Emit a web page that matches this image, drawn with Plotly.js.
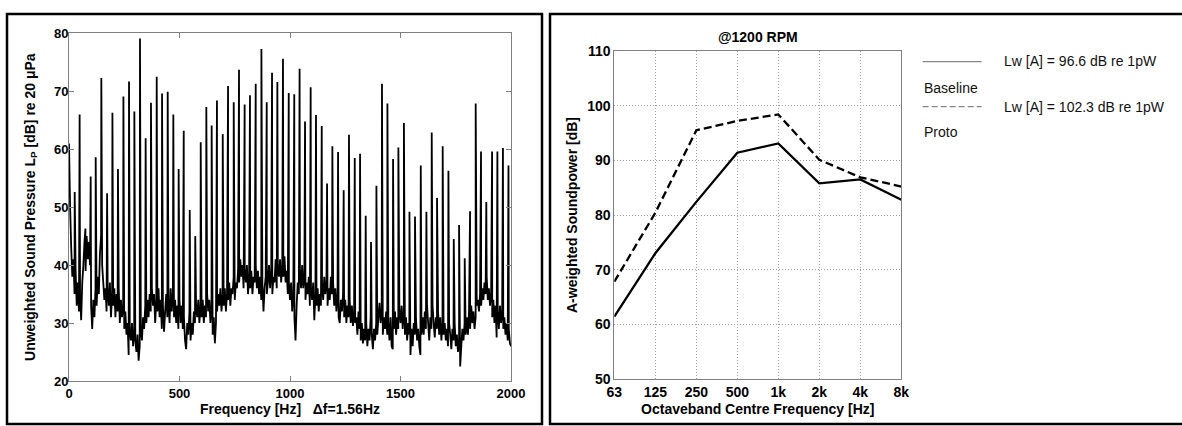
<!DOCTYPE html>
<html>
<head>
<meta charset="utf-8">
<script src="https://cdn.plot.ly/plotly-3.0.1.min.js"></script>
<style>
  html, body { margin: 0; padding: 0; background: #fff; }
  #chart { width: 1182px; height: 426px; }
</style>
</head>
<body>
<div id="chart"></div>
<script>
// ---------------- Left panel: narrow-band spectrum ----------------
// Tonal peaks (harmonics)
const peakHz = [25.8, 48.1, 74.2, 98.2, 120.8, 146.3, 172.4, 196.5, 221.5, 246.2,
  271.6, 295.7, 321.2, 346.8, 370.9, 396.9, 421, 446.6, 472.1, 496.1,
  519.2, 546.3, 571.3, 596, 621.4, 645.5, 669.5, 695.6, 719.7, 745.3,
  769.3, 794.8, 818.9, 844.9, 870.6, 894.7, 918.7, 942.8, 968.2, 994.3,
  1019.3, 1043.4, 1068, 1093.5, 1117.6, 1143.6, 1167.7, 1191.7, 1217.5, 1242.9,
  1266.9, 1293, 1317, 1342.6, 1366.6, 1391, 1416.2, 1440.8, 1466.4, 1490.4,
  1515.5, 1540.5, 1565.6, 1591.7, 1617.2, 1641.3, 1665.3, 1690.9, 1716.9, 1741,
  1765, 1790.6, 1814.7, 1840.2, 1864.3, 1888.3, 1914.4, 1938.4, 1963.5, 1988.6];
const peakDb = [52.6, 66.0, 46.3, 55.3, 58.6, 72.3, 52.4, 66.3, 56.6, 69.1,
  71.7, 66.5, 79.1, 61.9, 68.0, 72.5, 69.6, 69.9, 66.0, 56.6,
  63.2, 49.5, 45.0, 61.2, 67.3, 64.1, 68.4, 62.6, 70.9, 68.1,
  73.7, 67.7, 69.3, 71.3, 77.3, 68.1, 73.2, 71.6, 75.6, 69.7,
  69.5, 73.9, 64.8, 70.7, 65.9, 64.0, 54.1, 60.5, 59.5, 52.9,
  62.5, 58.5, 59.2, 48.5, 44.0, 53.7, 71.3, 67.9, 58.3, 60.3,
  64.5, 49.2, 48.4, 57.2, 49.2, 62.9, 51.6, 60.5, 56.3, 44.5,
  46.9, 41.2, 49.3, 67.9, 59.6, 50.9, 59.6, 59.6, 60.2, 57.2];

// Broadband floor, read every 5 Hz
const floorStepHz = 5;
const floor0to495 = [
  61, 50, 43, 38, 41, 35, 39, 33, 37, 32, 35, 30.5, 37, 40, 44, 39, 45, 41, 44, 40,
  33, 29, 34, 31, 36, 33, 38, 35, 42, 45, 40, 37, 34, 36, 32, 36, 33, 37, 31, 35,
  33, 36, 31, 35, 32, 36, 30, 34, 31, 33, 29, 32, 28, 30, 24.5, 29, 27, 30, 26, 29,
  27, 25, 28, 23.5, 26, 29, 27, 31, 29, 33, 30, 34, 31, 35, 32, 36, 33, 35, 30, 34,
  32, 36, 31, 34, 29, 33, 28.5, 32, 35, 31, 34, 30, 36, 32, 35, 31, 34, 30, 33, 29];
const floor500to995 = [
  34, 30, 33, 29, 31, 27, 25.5, 30, 28, 32, 27, 30, 28, 32, 30, 33, 31, 34, 30, 33,
  31, 34, 30, 33, 31, 35, 32, 34, 30, 33, 28, 31, 26.5, 30, 32, 35, 33, 36, 32, 35,
  33, 36, 32, 35, 34, 37, 33, 36, 35, 38, 34, 37, 36, 39, 37, 41, 38, 40, 36, 39,
  37, 40, 35, 38, 36, 39, 35, 38, 37, 40, 36, 39, 35, 38, 34, 37, 32, 36, 38, 35,
  37, 40, 36, 39, 35, 38, 37, 41, 36, 39, 38, 41, 37, 40, 38, 41.5, 37, 39, 35, 37];
const floor1000to1495 = [
  34, 37, 32, 35, 31, 27, 33, 37, 35, 39, 36, 40, 36, 38, 34, 37, 35, 38, 33, 36,
  34, 37, 30.5, 35, 33, 36, 32, 35, 33, 37, 34, 38, 35, 37, 33, 36, 34, 38, 35, 37,
  33, 36, 32, 35, 31, 30, 34, 32, 35, 31, 34, 30, 33, 31, 34, 30, 33, 29.5, 32, 30,
  31, 28, 32, 29, 27, 30, 26.5, 29, 27, 30, 26, 29, 27, 31, 28, 25.5, 29, 27, 30, 28,
  31, 33.5, 30, 32, 28, 31, 29, 32, 28, 30, 27, 31, 26, 25.5, 29, 32, 28, 31, 29, 32];
const floor1500to2000 = [
  30, 33, 29, 32, 28, 31, 27, 30, 28, 24.5, 29, 26, 30, 28, 31, 27, 29, 26, 24.5, 28,
  31, 28, 32, 29, 33, 30, 27, 31, 29, 33, 30, 27.5, 31, 29, 32, 28, 31, 27, 30, 28,
  30, 27, 29, 26, 30, 28, 25.5, 29, 27, 30, 26, 28, 25, 27, 22.5, 26, 29, 27, 30, 28,
  31, 28, 32, 29, 33, 30, 32, 29, 31, 33, 34, 32, 35, 33, 36, 34, 37, 35, 38, 34,
  36, 33, 35, 31, 34, 30, 33, 27.5, 32, 29, 33, 30, 32, 29, 31, 28, 30, 27, 29, 26.5, 26];

// ---------------- Right panel: octave bands ----------------
const octaveBands = ["63", "125", "250", "500", "1k", "2k", "4k", "8k"];
const baselineDb = [61.4, 73.0, 82.4, 91.4, 93.1, 85.8, 86.5, 82.8];
const protoDb = [67.8, 80.4, 95.5, 97.2, 98.4, 90.1, 86.9, 85.2];
const seriesNames = ["Baseline", "Proto"];
const seriesLwA = ["96.6", "102.3"];

// ---------------- build spectrum trace ----------------
const floorDb = [].concat(floor0to495, floor500to995, floor1000to1495, floor1500to2000);
const pts = [];
floorDb.forEach((v, i) => pts.push([i * floorStepHz, v]));
peakHz.forEach((f, i) => pts.push([f, peakDb[i]]));
pts.sort((a, b) => a[0] - b[0]);
const specX = pts.map(p => p[0]);
const specY = pts.map(p => p[1]);

const W = 1182, H = 426;
const px = x => x / W;
const py = y => 1 - y / H;

const FAM = "Liberation Sans, Arial, sans-serif";
const tickFontL = {family: FAM, size: 13, color: "#000", weight: "bold"};
const tickFontR = {family: FAM, size: 14, color: "#000", weight: "bold"};
const titleFont = {family: FAM, size: 14, color: "#000", weight: "bold"};
const legFont = {family: FAM, size: 14, color: "#111"};

const traces = [
  {x: specX, y: specY, type: "scatter", mode: "lines", xaxis: "x", yaxis: "y",
   name: "Spectrum", line: {color: "#000", width: 1.8, simplify: false}, hoverinfo: "skip"},
  {x: octaveBands, y: baselineDb, type: "scatter", mode: "lines", xaxis: "x2", yaxis: "y2",
   name: seriesNames[0], line: {color: "#000", width: 2.3}},
  {x: octaveBands, y: protoDb, type: "scatter", mode: "lines", xaxis: "x2", yaxis: "y2",
   name: seriesNames[1], line: {color: "#000", width: 2.3, dash: "8px,4px"}}
];

const layout = {
  width: W, height: H,
  margin: {l: 0, r: 0, t: 0, b: 0},
  paper_bgcolor: "#fff", plot_bgcolor: "#fff",
  showlegend: false,
  title: {text: "@1200 RPM", font: titleFont, x: px(757.8), xref: "paper", xanchor: "center",
          y: py(36.7), yref: "paper", yanchor: "middle"},
  xaxis: {
    domain: [px(69), px(511)], range: [0, 2000], tickvals: [0, 500, 1000, 1500, 2000],
    ticks: "inside", ticklen: 5, tickcolor: "#808080", showline: true, linecolor: "#808080",
    linewidth: 1, mirror: "ticks", showgrid: false, zeroline: false, tickfont: tickFontL,
    ticklabelstandoff: 0,
    title: {text: "Frequency [Hz]   \u0394f=1.56Hz", font: titleFont, standoff: 2},
    automargin: false, anchor: "y", fixedrange: true
  },
  yaxis: {
    domain: [py(381), py(33.3)], range: [20, 80], dtick: 10,
    ticks: "inside", ticklen: 5, tickcolor: "#808080", showline: true, linecolor: "#808080",
    linewidth: 1, mirror: "ticks", showgrid: false, zeroline: false, tickfont: tickFontL,
    ticklabelstandoff: -3,
    title: {text: "Unweighted Sound Pressure L<sub>P</sub> [dB] re 20 \u03bcPa", font: titleFont, standoff: 15},
    automargin: false, anchor: "x", fixedrange: true
  },
  xaxis2: {
    domain: [px(614.3), px(901.3)], type: "category", range: [0, 7],
    ticks: "", showline: true, linecolor: "#808080", linewidth: 1, mirror: true,
    showgrid: true, gridcolor: "#a0a0a0", griddash: "1px,2px", gridwidth: 1, zeroline: false,
    tickfont: tickFontR,
    title: {text: "Octaveband Centre Frequency [Hz]", font: titleFont, standoff: 5},
    automargin: false, anchor: "y2", fixedrange: true
  },
  yaxis2: {
    domain: [py(379), py(51)], range: [50, 110], dtick: 10,
    ticks: "", showline: true, linecolor: "#808080", linewidth: 1, mirror: true,
    showgrid: true, gridcolor: "#a0a0a0", griddash: "1px,2px", gridwidth: 1, zeroline: false,
    tickfont: tickFontR,
    title: {text: "A-weighted Soundpower [dB]", font: titleFont, standoff: 6},
    automargin: false, anchor: "x2", fixedrange: true
  },
  shapes: [
    {type: "rect", xref: "paper", yref: "paper", x0: px(7), x1: px(542), y0: py(424), y1: py(14),
     line: {color: "#000", width: 2.5}, fillcolor: "rgba(0,0,0,0)"},
    {type: "rect", xref: "paper", yref: "paper", x0: px(550), x1: px(1190), y0: py(424), y1: py(14),
     line: {color: "#000", width: 2.5}, fillcolor: "rgba(0,0,0,0)"},
    {type: "line", xref: "paper", yref: "paper", x0: px(922.7), x1: px(981.7), y0: py(61.7), y1: py(61.7),
     line: {color: "#6a6a6a", width: 1}},
    {type: "line", xref: "paper", yref: "paper", x0: px(922.7), x1: px(981.7), y0: py(106.7), y1: py(106.7),
     line: {color: "#6a6a6a", width: 1, dash: "6px,3px"}}
  ],
  annotations: [
    {text: "Lw [A] = " + seriesLwA[0] + " dB re 1pW", xref: "paper", yref: "paper", x: px(1001.5), y: py(61),
     xanchor: "left", yanchor: "middle", showarrow: false, font: legFont},
    {text: seriesNames[0], xref: "paper", yref: "paper", x: px(921.5), y: py(88.3),
     xanchor: "left", yanchor: "middle", showarrow: false, font: legFont},
    {text: "Lw [A] = " + seriesLwA[1] + " dB re 1pW", xref: "paper", yref: "paper", x: px(1001.5), y: py(106.7),
     xanchor: "left", yanchor: "middle", showarrow: false, font: legFont},
    {text: seriesNames[1], xref: "paper", yref: "paper", x: px(921.5), y: py(132.3),
     xanchor: "left", yanchor: "middle", showarrow: false, font: legFont}
  ]
};

Plotly.newPlot("chart", traces, layout, {displayModeBar: false, staticPlot: true});
</script>
</body>
</html>
